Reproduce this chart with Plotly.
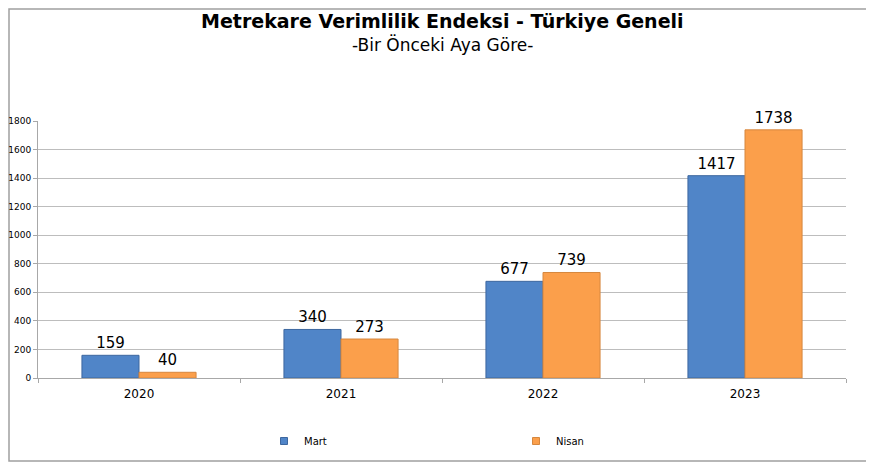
import plotly.graph_objects as go

years = ["2020", "2021", "2022", "2023"]
mart = [159, 340, 677, 1417]
nisan = [40, 273, 739, 1738]
y_ticks = [0, 200, 400, 600, 800, 1000, 1200, 1400, 1600, 1800]

font_family = "DejaVu Sans, Verdana, sans-serif"
blue = "#5085c8"
orange = "#fb9f4b"

fig = go.Figure()
fig.add_trace(go.Bar(
    name="Mart", x=years, y=mart, showlegend=False,
    marker=dict(color=blue, line=dict(color="#3d679f", width=1)),
    text=[str(v) for v in mart], textposition="outside",
    textfont=dict(size=15, color="#000000", family=font_family),
    cliponaxis=False,
))
fig.add_trace(go.Bar(
    name="Nisan", x=years, y=nisan, showlegend=False,
    marker=dict(color=orange, line=dict(color="#d6873e", width=1)),
    text=[str(v) for v in nisan], textposition="outside",
    textfont=dict(size=15, color="#000000", family=font_family),
    cliponaxis=False,
))
# legend-only entries with small square symbols
fig.add_trace(go.Scatter(name="Mart", x=[None], y=[None], mode="markers",
                         marker=dict(symbol="square", size=7, color=blue,
                                     line=dict(color="#3d679f", width=1))))
fig.add_trace(go.Scatter(name="Nisan", x=[None], y=[None], mode="markers",
                         marker=dict(symbol="square", size=7, color=orange,
                                     line=dict(color="#d6873e", width=1))))

W, H = 866, 454
L, R, T, B = 30, 28, 113, 84
PW, PH = W - L - R, H - T - B

fig.update_layout(
    width=W, height=H,
    margin=dict(l=L, r=R, t=T, b=B, autoexpand=False),
    paper_bgcolor="white", plot_bgcolor="white",
    barmode="group", bargap=0.435, bargroupgap=0,
    font=dict(family=font_family, color="#000000"),
    showlegend=True,
    legend=dict(orientation="h", x=(264 - 38) / PW, xanchor="left",
                y=-(441 - 378) / PH, yanchor="middle",
                font=dict(size=10, color="#000000"), entrywidth=207, entrywidthmode="pixels",
                itemwidth=30, bgcolor="rgba(0,0,0,0)"),
    annotations=[
        dict(text="<b>Metrekare Verimlilik Endeksi - Türkiye Geneli</b>", xref="paper", yref="paper",
             x=0.5, y=1, yshift=100, showarrow=False, font=dict(size=19, color="#000000"),
             xanchor="center", yanchor="middle"),
        dict(text="-Bir Önceki Aya Göre-", xref="paper", yref="paper",
             x=0.5, y=1, yshift=77, showarrow=False, font=dict(size=17, color="#000000"),
             xanchor="center", yanchor="middle"),
    ],
    shapes=[dict(type="rect", xref="paper", yref="paper",
                 x0=-(L - 1) / PW, x1=(PW + R - 1) / PW, y0=-(B - 1) / PH, y1=1 + (T - 1) / PH,
                 line=dict(color="#a0a0a0", width=1.5), fillcolor="rgba(0,0,0,0)", layer="below")],
)
fig.update_xaxes(
    showline=True, linecolor="#a8a8a8", linewidth=1,
    ticks="outside", tickcolor="#a8a8a8", ticklen=4, tickson="boundaries",
    tickfont=dict(size=12, color="#000000"), showgrid=False, automargin=False,
    ticklabelstandoff=5,
)
fig.update_yaxes(
    range=[0, 1800], tickvals=y_ticks, showline=True, linecolor="#a8a8a8", linewidth=1,
    ticks="outside", tickcolor="#a8a8a8", ticklen=4,
    tickfont=dict(size=9, color="#000000"), automargin=False,
    showgrid=True, gridcolor="#bdbdbd", gridwidth=1, zeroline=False,
)

fig.write_html("out.html")
